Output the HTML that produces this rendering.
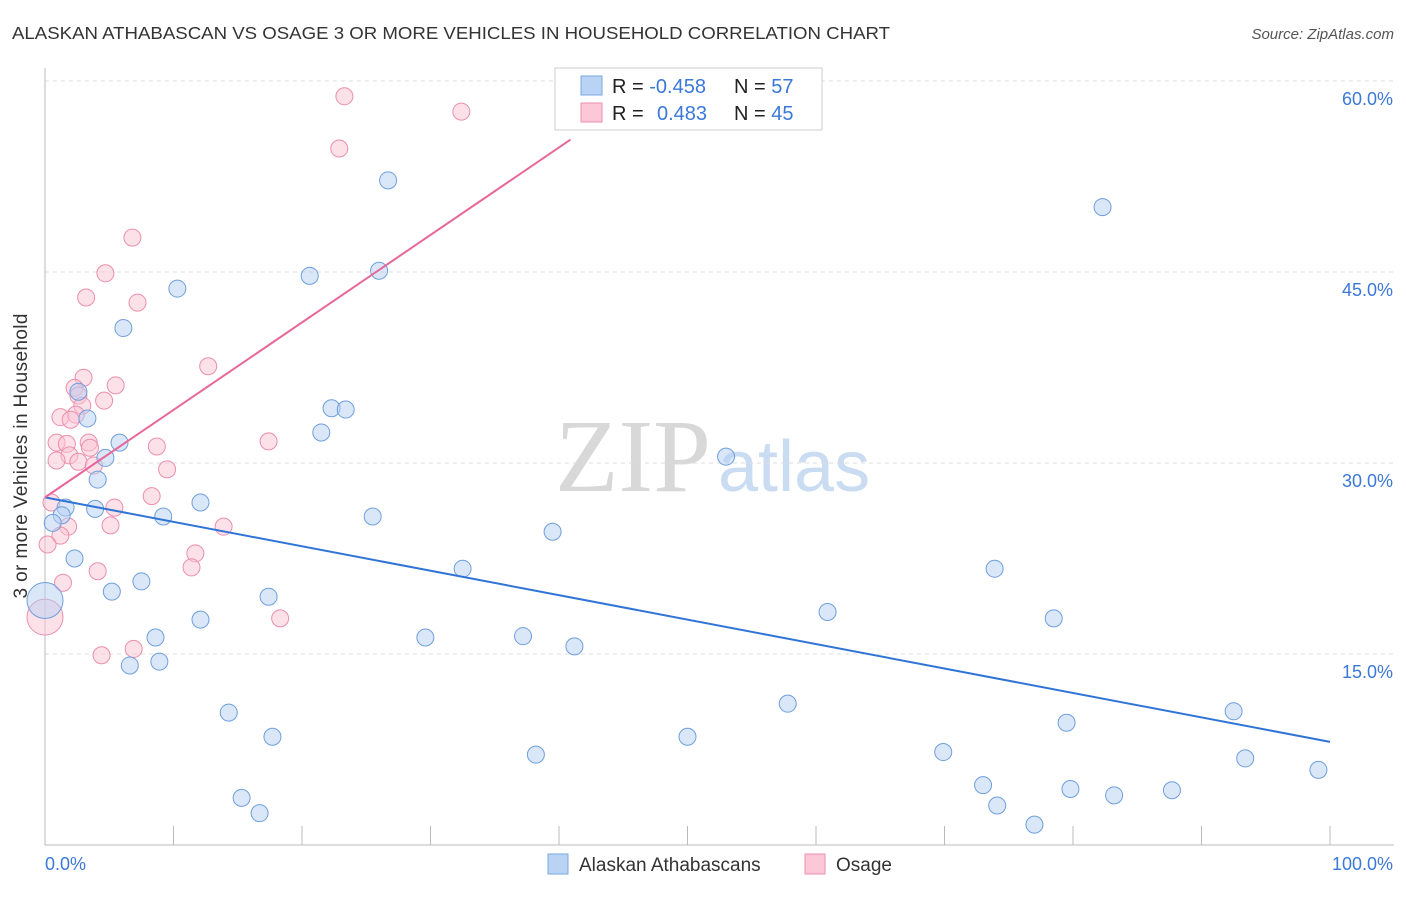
<!DOCTYPE html>
<html><head><meta charset="utf-8"><style>
body{margin:0;background:#fff;font-family:"Liberation Sans",sans-serif}
svg text{font-family:"Liberation Sans",sans-serif}
</style></head><body>
<svg id="chart" width="1406" height="892" viewBox="0 0 1406 892" xmlns="http://www.w3.org/2000/svg">
<text x="12" y="39" font-size="17.5" fill="#333" textLength="878" lengthAdjust="spacingAndGlyphs">ALASKAN ATHABASCAN VS OSAGE 3 OR MORE VEHICLES IN HOUSEHOLD CORRELATION CHART</text>
<text x="1394" y="39" font-size="15" fill="#555" font-style="italic" text-anchor="end">Source: ZipAtlas.com</text>
<text x="27" y="456" font-size="19" fill="#333" text-anchor="middle" transform="rotate(-90 27 456)" textLength="285">3 or more Vehicles in Household</text>
<text x="555" y="491" font-size="104" fill="#d8d8d8" style="font-family:'Liberation Serif',serif">ZIP</text>
<text x="718" y="491" font-size="72" fill="#c9dcf2">atlas</text>
<g id="grid"></g><g id="axes"></g><g id="marks"></g>
<g>
<rect x="555" y="68" width="267" height="62" fill="#fff" stroke="#ccc"/>
<rect x="581" y="76" width="21" height="19" fill="#b9d3f5" stroke="#7aa7e0"/>
<rect x="581" y="103" width="21" height="19" fill="#fcc7d7" stroke="#ec8fae"/>
<text x="612" y="93" font-size="20" fill="#222">R = <tspan fill="#3b78d8">-0.458</tspan></text>
<text x="734" y="93" font-size="20" fill="#222">N = <tspan fill="#3b78d8">57</tspan></text>
<text x="612" y="120" font-size="20" fill="#222">R = <tspan fill="#3b78d8" x="657">0.483</tspan></text>
<text x="734" y="120" font-size="20" fill="#222">N = <tspan fill="#3b78d8">45</tspan></text>
</g>
<g>
<rect x="548" y="854" width="20" height="20" fill="#b9d3f5" stroke="#7aa7e0"/>
<text x="579" y="871" font-size="19" fill="#333">Alaskan Athabascans</text>
<rect x="805" y="854" width="20" height="20" fill="#fcc7d7" stroke="#ec8fae"/>
<text x="836" y="871" font-size="19" fill="#333">Osage</text>
</g>
</svg>
<script>
const yTicks=[15,30,45,60];
const xTickLabels=["0.0%","100.0%"];
const blueX=[26.7,82.3,26.0,20.6,10.3,6.1,2.6,3.3,22.3,23.4,21.5,5.8,4.7,53.0,4.1,12.1,3.9,1.6,1.3,9.2,25.5,0.6,39.5,2.3,32.5,73.9,7.5,5.2,17.4,0,60.9,12.1,78.5,8.6,29.6,37.2,41.2,8.9,6.6,57.8,14.3,92.5,79.5,50.0,17.7,69.9,38.2,93.4,99.1,73.0,79.8,87.7,83.2,15.3,74.1,16.7,77.0];
const blueY=[52.2,50.1,45.1,44.7,43.7,40.6,35.6,33.5,34.3,34.2,32.4,31.6,30.4,30.5,28.7,26.9,26.4,26.5,25.9,25.8,25.8,25.3,24.6,22.5,21.7,21.7,20.7,19.9,19.5,19.2,18.3,17.7,17.8,16.3,16.3,16.4,15.6,14.4,14.1,11.1,10.4,10.5,9.6,8.5,8.5,7.3,7.1,6.8,5.9,4.7,4.4,4.3,3.9,3.7,3.1,2.5,1.6];
const pinkX=[23.3,32.4,22.9,6.8,4.7,3.2,7.2,12.7,3.0,5.5,2.3,2.6,4.6,2.9,2.4,1.2,2.0,0.9,1.7,3.4,3.5,8.7,17.4,1.9,0.9,2.6,3.8,9.5,8.3,5.4,0.5,1.8,5.1,13.9,1.2,0.2,11.7,11.4,4.1,1.4,18.3,0,6.9,4.4];
const pinkY=[58.8,57.6,54.7,47.7,44.9,43.0,42.6,37.6,36.7,36.1,35.9,35.3,34.9,34.5,33.8,33.6,33.4,31.6,31.5,31.6,31.2,31.3,31.7,30.6,30.2,30.1,29.8,29.5,27.4,26.5,26.9,25.0,25.1,25.0,24.3,23.6,22.9,21.8,21.5,20.6,17.8,17.9,15.4,14.9];
const blueTrend=[[0,27.3],[100,8.1]];
const pinkTrend=[[0,27.3],[40.9,55.4]];
const xs=v=>45+v*12.85, ys=v=>845-v*12.733;
const NS="http://www.w3.org/2000/svg";
function mk(tag,attrs,parent){const e=document.createElementNS(NS,tag);for(const k in attrs)e.setAttribute(k,attrs[k]);parent.appendChild(e);return e;}
const grid=document.getElementById('grid'),axes=document.getElementById('axes'),marks=document.getElementById('marks');
yTicks.forEach(t=>{
 const l=mk('line',{x1:45,x2:1394,y1:ys(t),y2:ys(t),stroke:'#ddd','stroke-dasharray':'4 4'},grid);
 
 
 const tx=mk('text',{x:1393,y:ys(t)+24,'font-size':18,fill:'#3b78d8','text-anchor':'end'},axes);
 tx.textContent=t.toFixed(1)+'%';
 
 
});
const ax=mk('line',{x1:45,x2:1394,y1:845,y2:845,stroke:'#bbb'},axes);


const ay=mk('line',{x1:45,x2:45,y1:68,y2:845,stroke:'#bbb'},axes);


for(let i=0;i<=10;i++){const t=mk('line',{x1:xs(i*10),x2:xs(i*10),y1:826,y2:845,stroke:'#bbb'},axes);
 
 }
[[0,'start',45],[100,'end',1393]].forEach((d,i)=>{const t=mk('text',{x:d[2],y:870,'font-size':18,fill:'#3b78d8','text-anchor':d[1]},axes);t.textContent=xTickLabels[i];
 
 });
function dots(X,Y,fill,stroke,name){X.forEach((x,i)=>{const r=x===0?18:8.5;
 const c=mk('circle',{cx:xs(x),cy:ys(Y[i]),r:r,fill:fill,'fill-opacity':0.5,stroke:stroke,'stroke-width':1},marks);
 
 });}
dots(pinkX,pinkY,'#fbc3d4','#eb8fae','osage-point');
dots(blueX,blueY,'#b6d0f3','#6f9fdc','athabascan-point');
const bl=mk('line',{x1:xs(blueTrend[0][0]),y1:ys(blueTrend[0][1]),x2:xs(blueTrend[1][0]),y2:ys(blueTrend[1][1]),stroke:'#2f74d6','stroke-width':2},marks);


const pl=mk('line',{x1:xs(pinkTrend[0][0]),y1:ys(pinkTrend[0][1]),x2:xs(pinkTrend[1][0]),y2:ys(pinkTrend[1][1]),stroke:'#e8679a','stroke-width':2},marks);


</script>
</body></html>
